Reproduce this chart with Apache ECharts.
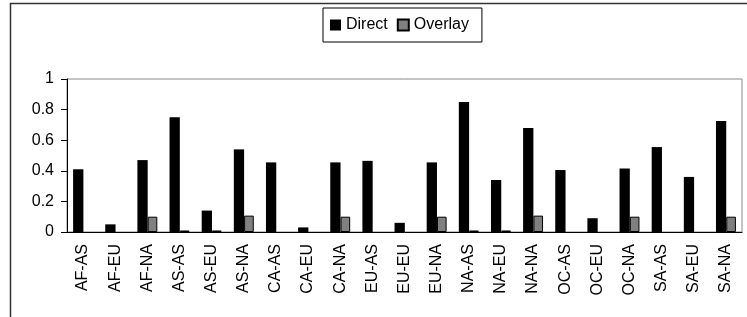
<!DOCTYPE html>
<html>
<head>
<meta charset="utf-8">
<script src="https://cdn.jsdelivr.net/npm/echarts@6/dist/echarts.min.js"></script>
<style>
  html, body { margin: 0; padding: 0; background: #fff; }
  #chart { width: 747px; height: 317px; }
</style>
</head>
<body>
<div id="chart"></div>
<script>
var pairs = ['AF-AS', 'AF-EU', 'AF-NA', 'AS-AS', 'AS-EU', 'AS-NA', 'CA-AS', 'CA-EU', 'CA-NA', 'EU-AS',
             'EU-EU', 'EU-NA', 'NA-AS', 'NA-EU', 'NA-NA', 'OC-AS', 'OC-EU', 'OC-NA', 'SA-AS', 'SA-EU', 'SA-NA'];
var direct = [0.41, 0.05, 0.47, 0.75, 0.14, 0.54, 0.455, 0.03, 0.455, 0.465,
              0.06, 0.455, 0.85, 0.34, 0.68, 0.405, 0.09, 0.415, 0.555, 0.36, 0.725];
var overlay = [0, 0, 0.1, 0.01, 0.01, 0.107, 0, 0, 0.1, 0,
               0, 0.1, 0.01, 0.01, 0.107, 0, 0, 0.1, 0, 0, 0.1];

var myChart = echarts.init(document.getElementById('chart'));
var font = 'Liberation Sans, Arial, sans-serif';

// zero bars draw nothing in the original, so no bordered stub either
var overlayData = overlay.map(function (v) { return v === 0 ? '-' : v; });

var option = {
    animation: false,
    textStyle: { fontFamily: font },
    graphic: [{
        type: 'rect',
        shape: { x: 10.5, y: 3.5, width: 780, height: 360 },
        style: { fill: 'none', stroke: '#333', lineWidth: 1.5 },
        silent: true
    }],
    legend: {
        left: 323,
        top: 8,
        padding: [9, 13, 9, 7],
        itemWidth: 11,
        itemHeight: 11,
        itemGap: 9,
        icon: 'rect',
        borderColor: '#000',
        borderWidth: 1,
        textStyle: { fontSize: 16, color: '#000', fontFamily: font },
        data: ['Direct', 'Overlay']
    },
    grid: {
        left: 67,
        right: 5,
        top: 79,
        bottom: 85,
        show: true,
        borderColor: '#888',
        borderWidth: 1
    },
    xAxis: {
        type: 'category',
        data: pairs,
        axisLine: { lineStyle: { color: '#000', width: 1 } },
        axisTick: { length: 5, lineStyle: { color: '#000' } },
        axisLabel: { rotate: 90, margin: 12, fontSize: 16, color: '#000', interval: 0, fontFamily: font }
    },
    yAxis: {
        type: 'value',
        min: 0,
        max: 1,
        interval: 0.2,
        splitLine: { show: false },
        axisLine: { show: true, lineStyle: { color: '#000', width: 1 } },
        axisTick: { show: true, length: 6, lineStyle: { color: '#000' } },
        axisLabel: { margin: 13, fontSize: 16, color: '#000', fontFamily: font }
    },
    series: [
        {
            name: 'Direct',
            type: 'bar',
            data: direct,
            barWidth: '32%',
            barGap: '0%',
            itemStyle: { color: '#000' }
        },
        {
            name: 'Overlay',
            type: 'bar',
            data: overlayData,
            barWidth: '30%',
            itemStyle: { color: '#808080', borderColor: '#000', borderWidth: 1 }
        }
    ]
};

myChart.setOption(option);
</script>
</body>
</html>
